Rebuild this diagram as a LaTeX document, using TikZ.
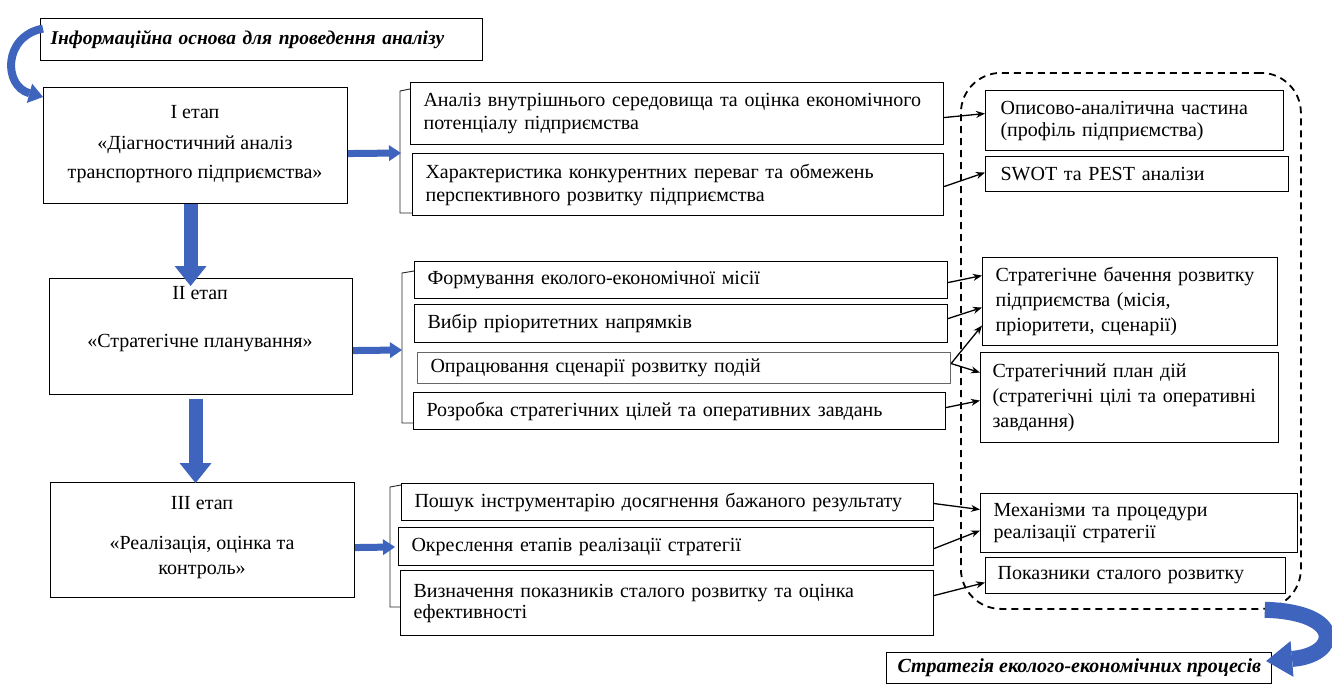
\documentclass[tikz,border=0pt]{standalone}
\usepackage{fontspec}
\setmainfont{Liberation Serif}
\usetikzlibrary{arrows.meta,calc}
\definecolor{ablue}{RGB}{62,100,190}
\begin{document}
\begin{tikzpicture}[x=1pt,y=-1pt,
  every node/.style={font=\fontsize{20}{23}\selectfont},
  box/.style={draw, line width=1.1pt, anchor=north west, inner xsep=13pt, inner ysep=0pt, align=left},
  rbox/.style={box, inner xsep=15pt},
  sbox/.style={draw, line width=1.1pt, anchor=north west, inner sep=0pt},
  stxt/.style={align=center, inner sep=0pt},
  brk/.style={line width=0.9pt, draw=black!85},
  link/.style={line width=1.3pt, -{Stealth[length=9pt,width=7pt]}},
  bigv/.style={draw=ablue, line width=14pt, -{Triangle[length=20pt,width=32pt,line width=0pt]}},
  bigh/.style={draw=ablue, line width=7pt, -{Triangle[length=12pt,width=16pt,line width=0pt]}},
  curv/.style={draw=ablue, line width=8pt, -{Triangle[length=14pt,width=20pt,line width=0pt]}},
  curvb/.style={draw=ablue, line width=16pt, -{Triangle[length=26pt,width=36pt,line width=0pt]}},
  bi/.style={font=\fontsize{19.5}{23}\selectfont\bfseries\itshape}
]
\fill[white] (0,0) rectangle (1332,693);
\useasboundingbox (0,0) rectangle (1332,693);

% top info box
\node[box, bi, inner xsep=10pt, text width=422pt, minimum height=42pt] (info) at (40,18) {Інформаційна основа для проведення аналізу};

% stage boxes
\node[sbox, minimum width=304pt, minimum height=116pt] (s1) at (43,87) {};
\node[stxt] (s1t) at (195,144) {І етап\\[8pt]«Діагностичний аналіз\\[6pt]транспортного підприємства»};
\node[sbox, minimum width=303pt, minimum height=116pt] (s2) at (49,278) {};
\node[stxt] (s2t) at (200,319) {ІІ етап\\[25pt]«Стратегічне планування»};
\node[sbox, minimum width=304pt, minimum height=115pt] (s3) at (50,482) {};
\node[stxt] (s3t) at (202,538) {ІІІ етап\\[17pt]«Реалізація, оцінка та\\[2pt]контроль»};

% middle boxes
\node[box, text width=507pt, minimum height=62pt] (m1) at (410,82) {Аналіз внутрішнього середовища та оцінка економічного\\потенціалу підприємства};
\node[box, text width=505pt, minimum height=62pt] (m2) at (412,153) {Характеристика конкурентних переваг та обмежень\\перспективного розвитку підприємства};
\node[box, text width=507pt, minimum height=37pt] (m3) at (414,261) {Формування еколого-економічної місії};
\node[box, text width=507pt, minimum height=38pt] (m4) at (414,304) {Вибір пріоритетних напрямків};
\node[box, text width=507pt, minimum height=31pt, draw=black!60] (m5) at (417,352) {Опрацювання сценарії розвитку подій};
\node[box, text width=506pt, minimum height=37pt] (m6) at (413,392) {Розробка стратегічних цілей та оперативних завдань};
\node[box, text width=506pt, minimum height=37pt] (m7) at (401,483) {Пошук інструментарію досягнення бажаного результату};
\node[box, text width=509pt, minimum height=38pt] (m8) at (398,527) {Окреслення етапів реалізації стратегії};
\node[box, text width=507pt, minimum height=65pt] (m9) at (400,570) {Визначення показників сталого розвитку та оцінка\\[-2pt]ефективності};

% brackets
\draw[brk] (410,89) -- (400,91) -- (400,213) -- (412,213);
\draw[brk] (414,271) -- (402,273) -- (402,423) -- (413,423);
\draw[brk] (401,485) -- (390,487) -- (390,607) -- (400,607);
\coordinate (b1) at (401,153);
\coordinate (b2) at (402,350);
\coordinate (b3) at (395,547);

% dashed group
\node[draw, line width=1.8pt, dash pattern=on 7pt off 5pt, rounded corners=40pt, minimum width=340pt, minimum height=536pt, anchor=north west, inner sep=0pt] (grp) at (960,72) {};

% right boxes
\node[rbox, text width=268pt, minimum height=60pt] (r1) at (985,90) {Описово-аналітична частина\\[-1pt](профіль підприємства)};
\node[rbox, text width=273pt, minimum height=35pt] (r2) at (985,156) {SWOT та PEST аналізи};
\node[rbox, inner xsep=13pt, text width=269pt, minimum height=88pt] (r3) at (982,257) {Стратегічне бачення розвитку\\[2pt]підприємства (місія,\\[2pt]пріоритети, сценарії)};
\node[rbox, inner xsep=12pt, text width=274pt, minimum height=90pt] (r4) at (980,352) {Стратегічний план дій\\[2pt](стратегічні цілі та оперативні\\[2pt]завдання)};
\node[rbox, inner xsep=13pt, text width=291pt, minimum height=59pt] (r5) at (980,493) {Механізми та процедури\\[-1pt]реалізації стратегії};
\node[rbox, inner xsep=12pt, text width=276pt, minimum height=36pt] (r6) at (985,557) {Показники сталого розвитку};

% final box
\node[box, bi, font=\fontsize{20}{22}\selectfont\bfseries\itshape, inner xsep=11pt, minimum height=31pt] (final) at (886,652) {\makebox[363pt][l]{Стратегія еколого-економічних процесів}};

% blue arrows
\draw[curv] ($(info.west)+(3,-11)$) .. controls (3,36) and (3,86) .. ($(s1.north west)+(0,10)$);
\draw[bigv] ($(s1.south)+(-5,0)$) -- ($(s2.north)+(-10.5,8)$);
\draw[bigv] ($(s2.south)+(-5.5,4)$) -- ($(s3.north)+(-7,1)$);
\draw[bigh] ($(s1.east)+(0,8)$) -- (b1);
\draw[bigh] ($(s2.east)+(0,14)$) -- (b2);
\draw[bigh] ($(s3.east)+(0,7.5)$) -- (b3);
\draw[curvb] ($(grp.south east)+(-37,0)$) .. controls (1345,612) and (1340,655) .. ($(final.east)+(-6,-7)$);

% links
\draw[link] ($(m1.east)+(0,4)$) -- ($(r1.west)+(0,-7)$);
\draw[link] ($(m2.east)+(0,2)$) -- ($(r2.west)+(0,-1.5)$);
\draw[link] ($(m3.east)+(0,2.5)$) -- ($(r3.west)+(0,-26)$);
\draw[link] ($(m4.east)+(0,-5)$) -- ($(r3.west)+(0,6)$);
\draw[link] ($(m5.east)+(0,-4.5)$) -- ($(r3.west)+(0,24)$);
\draw[link] ($(m5.east)+(0,-4.5)$) -- ($(r4.west)+(0,-25)$);
\draw[link] ($(m6.east)+(0,-3.5)$) -- ($(r4.west)+(0,3)$);
\draw[link] ($(m7.east)+(0,1.5)$) -- ($(r5.west)+(0,-13.5)$);
\draw[link] ($(m8.east)+(0,2)$) -- ($(r5.west)+(0,7.5)$);
\draw[link] ($(m9.east)+(0,-7.5)$) -- ($(r6.west)+(0,7)$);
\end{tikzpicture}
\end{document}
